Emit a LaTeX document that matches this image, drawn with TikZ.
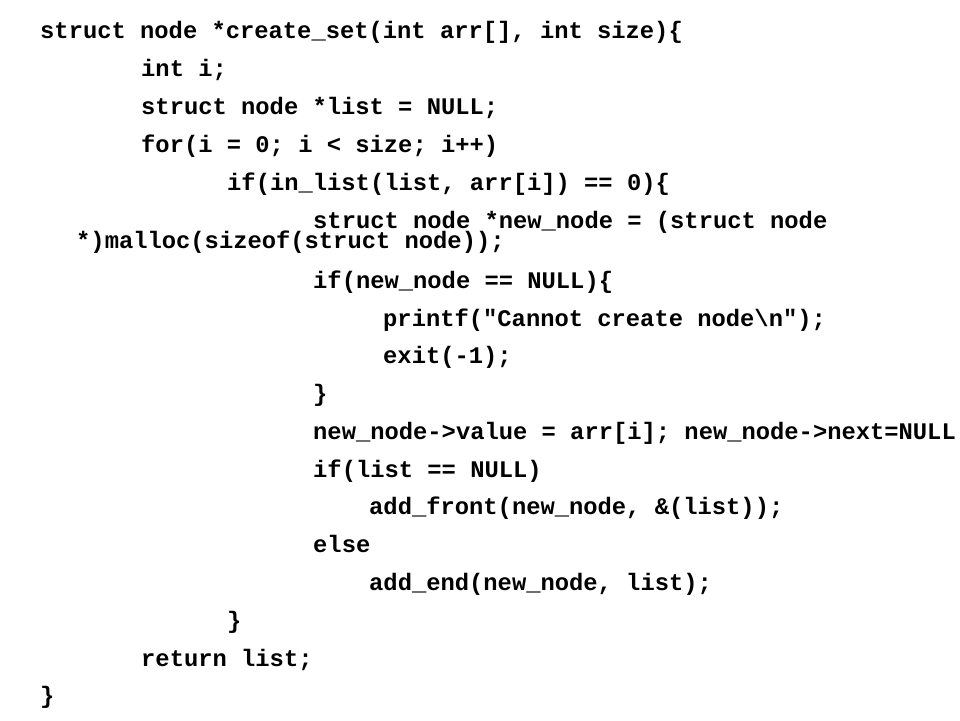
\documentclass[tikz,border=0pt]{standalone}
\usepackage{fontspec}
\setmonofont{Liberation Mono}
\usepackage{tikz}

\newcommand{\codefont}{\fontsize{23.8}{24}\selectfont\ttfamily\bfseries}
\tikzset{codeline/.style = {anchor = base west, inner sep = 0pt, font = \codefont}}

\begin{document}
\begin{tikzpicture}[x = 1pt, y = -1pt]
        \useasboundingbox[fill = white] (0,0) rectangle (960,720);

        \node (head_line)[codeline] at ( 40,38) {struct node *create\_set(int arr[], int size)\{};
        \node (decl_i)[codeline] at (141,76) {int i;};
        \node (decl_list)[codeline] at (141,114) {struct node *list = NULL;};
        \node (for_loop)[codeline] at (141,152) {for(i = 0; i < size; i++)};
        \node (if_in_list)[codeline] at (227,190) {if(in\_list(list, arr[i]) == 0)\{};
        \node (new_node_a)[codeline] at (313,228) {struct node *new\_node = (struct node};
        \node (new_node_b)[codeline] at ( 76,248) {*)malloc(sizeof(struct node));};
        \node (if_null)[codeline] at (313,288) {if(new\_node == NULL)\{};
        \node (print_err)[codeline] at (383,326) {printf("Cannot create node\textbackslash n");};
        \node (exit_call)[codeline] at (383,363) {exit(-1);};
        \node (close_if)[codeline] at (313,401) {\}};
        \node (set_fields)[codeline] at (313,439) {new\_node->value = arr[i]; new\_node->next=NULL};
        \node (if_empty)[codeline] at (313,477) {if(list == NULL)};
        \node (front_call)[codeline] at (369,514) {add\_front(new\_node, \&(list));};
        \node (else_part)[codeline] at (313,552) {else};
        \node (end_call)[codeline] at (369,590) {add\_end(new\_node, list);};
        \node (close_for)[codeline] at (227,628) {\}};
        \node (ret_list)[codeline] at (141,666) {return list;};
        \node (close_fn)[codeline] at ( 40,703) {\}};
    \end{tikzpicture}
\end{document}
